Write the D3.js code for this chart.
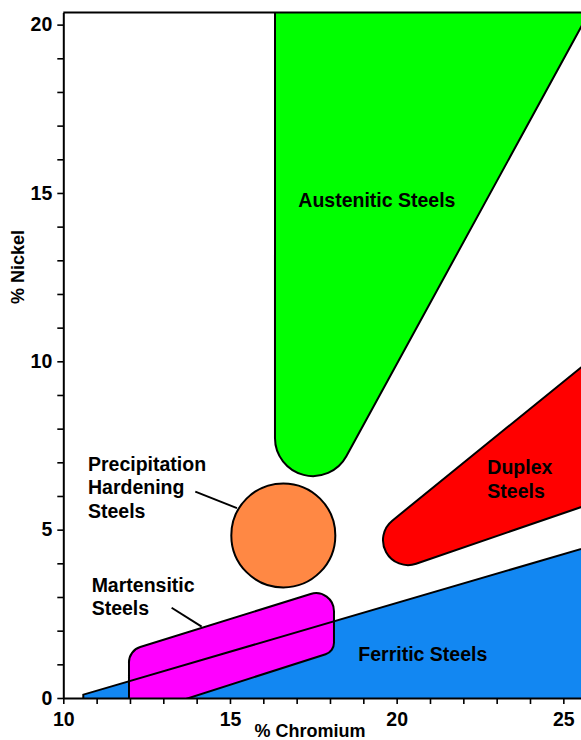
<!DOCTYPE html>
<html>
<head>
<meta charset="utf-8">
<script src="https://cdn.jsdelivr.net/npm/d3@7"></script>
<style>
  body { margin: 0; background: #fff; }
  text { font-family: "Liberation Sans", Arial, sans-serif; font-weight: bold; }
</style>
</head>
<body>
<svg id="chart" width="581" height="740"></svg>
<script>
// axis ranges (% Cr across, % Ni up)
var crDomain = [10, 25.53];
var niDomain = [0, 20.36];
var crTicks = d3.range(10, 26);
var niTicks = d3.range(0, 21);

// each region: outline corners in clockwise order as [cr, ni, roundRadius]
var ferritic = [[10.6, -0.6, 0], [10.6, 0.1, 0], [27, 4.85, 0], [27, -0.6, 0]];
var martensitic = [[11.97, -0.57, 0], [12.45, 1.06, 0.48], [17.58, 2.58, 0.54], [17.76, 1.64, 0.36]];
var duplex = [[20.34, 4.69, 0.75], [27, 11.0, 0], [27, 6.17, 0]];
var austenitic = [[16.35, 21.5, 0], [26.4, 21.5, 0], [17.49, 7.72, 1.14]];
var precipCircle = [16.6, 4.83, 1.56];

// labels: [cr, ni (baseline of first line), lines]
var labels = [
  [17.05, 14.58, ['Austenitic Steels']],
  [22.72, 6.65, ['Duplex', 'Steels']],
  [18.85, 1.11, ['Ferritic Steels']],
  [10.74, 6.75, ['Precipitation', 'Hardening', 'Steels']],
  [10.85, 3.16, ['Martensitic', 'Steels']]
];
var leaders = [
  [[13.96, 6.13], [15.21, 5.64]],
  [[13.25, 2.68], [14.15, 2.12]]
];

var svg = d3.select('#chart');
var x = d3.scaleLinear().domain(crDomain).range([63.3, 581]);
var y = d3.scaleLinear().domain(niDomain).range([698, 12.5]);

svg.append('clipPath').attr('id', 'plotClip')
  .append('rect')
  .attr('x', x(crDomain[0])).attr('y', y(niDomain[1]))
  .attr('width', x(crDomain[1]) - x(crDomain[0]))
  .attr('height', y(niDomain[0]) - y(niDomain[1]));

// outline round a set of corner circles (convex, clockwise on screen)
function regionPath(pts) {
  var P = pts.map(function(p) {
    return {x: x(p[0]), y: y(p[1]), r: x(p[0] + p[2]) - x(p[0])};
  });
  var n = P.length;
  var ang = [];
  for (var i = 0; i < n; i++) {
    var c1 = P[i], c2 = P[(i + 1) % n];
    var dx = c2.x - c1.x, dy = c2.y - c1.y;
    var L = Math.sqrt(dx * dx + dy * dy);
    var ux = dx / L, uy = dy / L;
    var a = (c1.r - c2.r) / L;
    var b = Math.sqrt(1 - a * a);
    var nx = a * ux + b * uy, ny = a * uy - b * ux;
    ang.push(Math.atan2(ny, nx));
  }
  var path = d3.path();
  for (var j = 0; j < n; j++) {
    var a0 = ang[(j - 1 + n) % n], a1 = ang[j];
    if (P[j].r > 0) {
      path.arc(P[j].x, P[j].y, P[j].r, a0, a1, false);
    } else if (j === 0) {
      path.moveTo(P[j].x, P[j].y);
    } else {
      path.lineTo(P[j].x, P[j].y);
    }
  }
  path.closePath();
  return path.toString();
}

var g = svg.append('g').attr('clip-path', 'url(#plotClip)');

g.append('path').attr('d', regionPath(ferritic))
  .attr('fill', '#1287f2').attr('stroke', 'none');
g.append('path').attr('d', regionPath(martensitic))
  .attr('fill', '#ff00ff').attr('stroke', '#000').attr('stroke-width', 2);
g.append('path').attr('d', regionPath(ferritic))
  .attr('fill', 'none').attr('stroke', '#000').attr('stroke-width', 2);
g.append('path').attr('d', regionPath(duplex))
  .attr('fill', '#ff0000').attr('stroke', '#000').attr('stroke-width', 2);
g.append('path').attr('d', regionPath(austenitic))
  .attr('fill', '#00ff00').attr('stroke', '#000').attr('stroke-width', 2);
g.append('circle')
  .attr('cx', x(precipCircle[0])).attr('cy', y(precipCircle[1]))
  .attr('r', x(precipCircle[0] + precipCircle[2]) - x(precipCircle[0]))
  .attr('fill', '#ff8844').attr('stroke', '#000').attr('stroke-width', 2);

svg.selectAll('.leader').data(leaders).enter().append('line')
  .attr('class', 'leader')
  .attr('x1', function(d) { return x(d[0][0]); })
  .attr('y1', function(d) { return y(d[0][1]); })
  .attr('x2', function(d) { return x(d[1][0]); })
  .attr('y2', function(d) { return y(d[1][1]); })
  .attr('stroke', '#000').attr('stroke-width', 2);

var lab = svg.selectAll('.label').data(labels).enter().append('text')
  .attr('class', 'label')
  .attr('x', function(d) { return x(d[0]); })
  .attr('y', function(d) { return y(d[1]); })
  .attr('font-size', 19.5)
  .attr('fill', '#000');
lab.selectAll('tspan').data(function(d) {
    return d[2].map(function(t) { return {t: t, x: x(d[0])}; });
  }).enter().append('tspan')
  .attr('x', function(d) { return d.x; })
  .attr('dy', function(d, i) { return i === 0 ? 0 : 23.6; })
  .text(function(d) { return d.t; });

// axes
var xAxis = svg.append('g').attr('transform', 'translate(0,' + y(0) + ')')
  .call(d3.axisBottom(x).tickValues(crTicks)
    .tickFormat(function(d) { return d % 5 === 0 ? d : ''; })
    .tickSize(6).tickSizeOuter(0).tickPadding(8));
var yAxis = svg.append('g').attr('transform', 'translate(' + x(10) + ',0)')
  .call(d3.axisLeft(y).tickValues(niTicks)
    .tickFormat(function(d) { return d % 5 === 0 ? d : ''; })
    .tickSize(6).tickSizeOuter(0).tickPadding(5));
[xAxis, yAxis].forEach(function(ax) {
  ax.select('.domain').attr('stroke-width', 2);
  ax.selectAll('.tick line').attr('stroke-width', 1.6);
  ax.selectAll('.tick text').attr('font-size', 19.5).attr('font-family', null).attr('fill', '#000');
});

svg.append('line')
  .attr('x1', x(10)).attr('x2', x(crDomain[1]))
  .attr('y1', y(niDomain[1])).attr('y2', y(niDomain[1]))
  .attr('stroke', '#000').attr('stroke-width', 2);

svg.append('text')
  .attr('x', x(17.4))
  .attr('y', 737)
  .attr('text-anchor', 'middle').attr('font-size', 18)
  .text('% Chromium');
svg.append('text')
  .attr('transform', 'translate(24,' + y(12.8) + ') rotate(-90)')
  .attr('text-anchor', 'middle').attr('font-size', 18)
  .text('% Nickel');
</script>
</body>
</html>
